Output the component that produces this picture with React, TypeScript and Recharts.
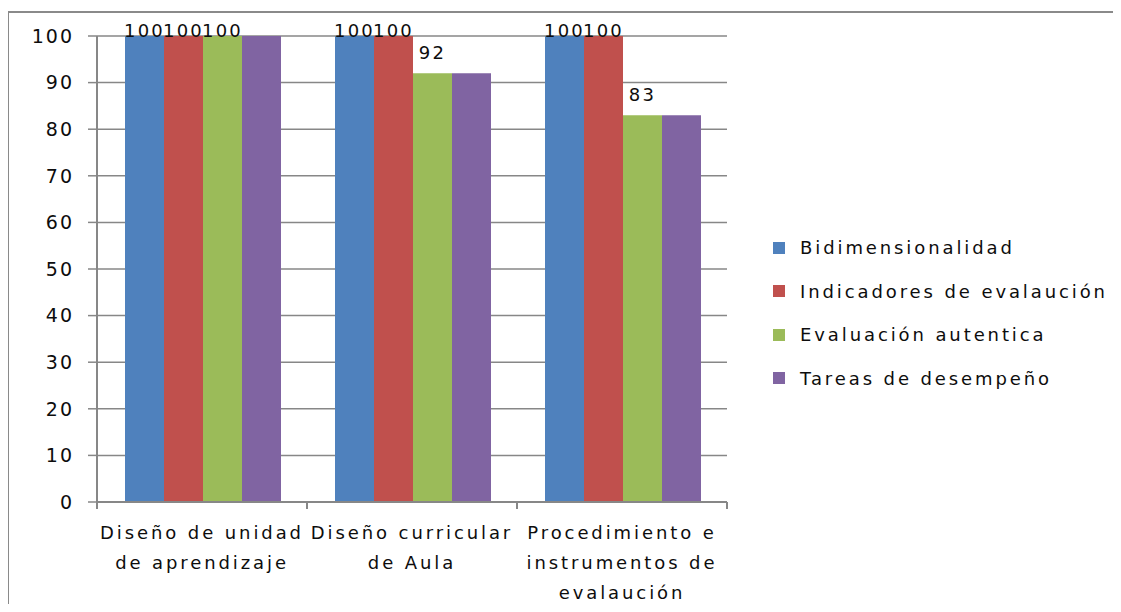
import React from "react";
import { BarChart, Bar, XAxis, YAxis, CartesianGrid, LabelList } from "recharts";

const categories = [
  "Diseño de unidad de aprendizaje",
  "Diseño curricular de Aula",
  "Procedimiento e instrumentos de evalaución",
];

// wrapped lines for each category tick
const categoryLines = [
  ["Diseño de unidad", "de aprendizaje"],
  ["Diseño curricular", "de Aula"],
  ["Procedimiento e", "instrumentos de", "evalaución"],
];

const bidimensionalidad = [100, 100, 100];
const indicadores = [100, 100, 100];
const evaluacionAutentica = [100, 92, 83];
const tareasDesempeno = [100, 92, 83];

const yTicks = [0, 10, 20, 30, 40, 50, 60, 70, 80, 90, 100];

const series = [
  { key: "bidim", name: "Bidimensionalidad", color: "#4F81BD", values: bidimensionalidad, labelled: true },
  { key: "indic", name: "Indicadores de evalaución", color: "#C0504D", values: indicadores, labelled: true },
  { key: "autent", name: "Evaluación autentica", color: "#9BBB59", values: evaluacionAutentica, labelled: true },
  { key: "tareas", name: "Tareas de desempeño", color: "#8064A2", values: tareasDesempeno, labelled: false },
];

const data = categories.map((cat, i) => {
  const row: Record<string, string | number> = { cat, idx: i };
  series.forEach((s) => {
    row[s.key] = s.values[i];
  });
  return row;
});

const FONT = "'DejaVu Sans', sans-serif";
const GRID = "#878787";
const TEXT = "#0d0d0d";
const PLOT_TOP = 28;

const YTick = (props: any) => {
  const { x, y, payload } = props;
  return (
    <text
      x={x}
      y={y}
      dy="0.36em"
      textAnchor="end"
      fill={TEXT}
      fontFamily={FONT}
      fontSize={19}
      letterSpacing={2}
    >
      {payload.value}
    </text>
  );
};

const XTick = (props: any) => {
  const { x, y, payload, index } = props;
  const half = payload.offset || 105;
  const lines = categoryLines[payload.index ?? index] || [payload.value];
  return (
    <g>
      <line x1={x - half} x2={x - half} y1={y - 8} y2={y - 1} stroke={GRID} strokeWidth={2} />
      <line x1={x + half} x2={x + half} y1={y - 8} y2={y - 1} stroke={GRID} strokeWidth={2} />
      {lines.map((ln: string, i: number) => (
        <text
          key={i}
          x={x}
          y={y + 29 + i * 30}
          textAnchor="middle"
          fill={TEXT}
          fontFamily={FONT}
          fontSize={18}
          letterSpacing={2.9}
        >
          {ln}
        </text>
      ))}
    </g>
  );
};

const ValueLabel = (props: any) => {
  const { x, y, width, value } = props;
  const base = Math.max(y - 14, PLOT_TOP + 1);
  return (
    <text
      x={x + width / 2}
      y={base}
      textAnchor="middle"
      fill={TEXT}
      fontFamily={FONT}
      fontSize={18}
      letterSpacing={2.2}
    >
      {value}
    </text>
  );
};

export default function App() {
  return (
    <div style={{ position: "relative", width: 1105, height: 596, overflow: "hidden", fontFamily: FONT }}>
      <div
        style={{
          position: "absolute",
          left: -1,
          top: 3,
          width: 1300,
          height: 800,
          border: "2px solid #8a8a8a",
        }}
      />
      <div style={{ position: "absolute", left: 0, top: 0 }}>
        <BarChart
          width={1105}
          height={596}
          data={data}
          margin={{ top: PLOT_TOP, right: 386, left: 0, bottom: 0 }}
          barCategoryGap={28}
          barGap={0}
        >
          <CartesianGrid vertical={false} stroke={GRID} strokeWidth={1.5} />
          <XAxis
            dataKey="cat"
            height={102}
            axisLine={{ stroke: GRID, strokeWidth: 2 }}
            tickLine={false}
            tick={<XTick />}
            interval={0}
          />
          <YAxis
            width={89}
            domain={[0, 100]}
            ticks={yTicks}
            interval={0}
            axisLine={{ stroke: GRID, strokeWidth: 2 }}
            tickLine={{ stroke: GRID, strokeWidth: 1.5 }}
            tickSize={9}
            tickMargin={14}
            tick={<YTick />}
          />
          {series.map((s) => (
            <Bar key={s.key} dataKey={s.key} name={s.name} fill={s.color} isAnimationActive={false}>
              {s.labelled ? <LabelList dataKey={s.key} content={<ValueLabel />} /> : null}
            </Bar>
          ))}
        </BarChart>
      </div>
      <div style={{ position: "absolute", left: 765, top: 218 }}>
        {series.map((s) => (
          <div key={s.key} style={{ height: 43.5, display: "flex", alignItems: "center" }}>
            <span style={{ width: 12, height: 12, background: s.color, display: "inline-block", marginRight: 15 }} />
            <span style={{ fontSize: 18, letterSpacing: 2.9, color: TEXT }}>{s.name}</span>
          </div>
        ))}
      </div>
    </div>
  );
}
